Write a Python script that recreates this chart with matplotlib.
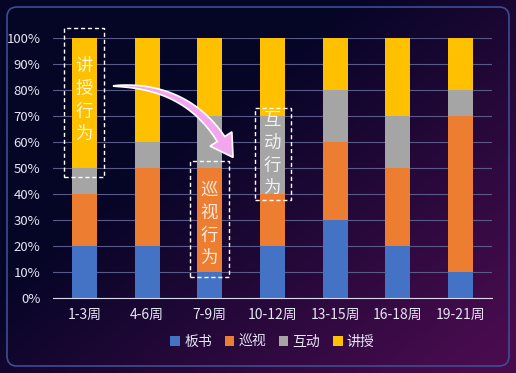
import matplotlib.pyplot as plt
import numpy as np
from matplotlib.patches import FancyBboxPatch, Rectangle, Polygon

plt.rcParams['font.family'] = ['Noto Sans CJK SC', 'DejaVu Sans']

# datos del grafico (porcentajes)
semanas = ["1-3周", "4-6周", "7-9周", "10-12周", "13-15周", "16-18周", "19-21周"]
banshu = [20, 20, 10, 20, 30, 20, 10]
xunshi = [20, 30, 40, 20, 30, 30, 60]
hudong = [10, 10, 20, 30, 20, 20, 10]
jiangshou = [50, 40, 30, 30, 20, 30, 20]
series = ["板书", "巡视", "互动", "讲授"]
colores = ["#4472C4", "#ED7D31", "#A5A5A5", "#FFC000"]

W, H = 516, 373
fig = plt.figure(figsize=(W / 100, H / 100), dpi=100)

# fondo degradado azul oscuro -> morado (abajo a la derecha)
bg = fig.add_axes([0, 0, 1, 1])
gx, gy = np.meshgrid(np.linspace(0, 1, 200), np.linspace(0, 1, 200))
t = np.clip((gx * 0.9 + gy * 0.8 - 0.6) / 1.0, 0, 1)
c1 = np.array([5, 5, 38]) / 255
c2 = np.array([72, 12, 78]) / 255
img = c1[None, None, :] * (1 - t[..., None]) + c2[None, None, :] * t[..., None]
bg.imshow(img, extent=[0, W, 0, H], origin="upper", aspect="auto")
bg.set_xlim(0, W)
bg.set_ylim(0, H)
bg.axis("off")
bg.add_patch(FancyBboxPatch((7, 7), W - 14, H - 14, boxstyle="round,pad=0,rounding_size=10",
                            fill=False, edgecolor="#3d4d92", linewidth=1.2))

ax = fig.add_axes([53 / W, 1 - 298 / H, 439 / W, 260 / H])
ax.set_facecolor("none")
x = np.arange(len(semanas))
abajo = np.zeros(len(semanas))
for nombre, vals, col in zip(series, [banshu, xunshi, hudong, jiangshou], colores):
    ax.bar(x, vals, bottom=abajo, width=0.4, color=col, label=nombre, zorder=2)
    abajo = abajo + np.array(vals)

ax.set_xlim(-0.5, len(semanas) - 0.5)
ax.set_ylim(0, 100)
ax.set_yticks(np.arange(0, 101, 10))
ax.set_yticklabels([f"{v}%" for v in range(0, 101, 10)])
ax.set_xticks(x)
ax.set_xticklabels(semanas)
ax.tick_params(colors="#e6e6f5", length=0, pad=7)
ax.tick_params(axis="x", labelsize=10)
ax.tick_params(axis="y", labelsize=9.5, pad=9)
ax.grid(axis="y", color="#5a5a88", linewidth=0.8, zorder=0)
for s in ["top", "right", "left"]:
    ax.spines[s].set_visible(False)
ax.spines["bottom"].set_color("#d8d8ee")
ax.spines["bottom"].set_zorder(3)

leg = ax.legend(loc="upper center", bbox_to_anchor=(0.5, -0.095), ncol=4, frameon=False,
                fontsize=10, handlelength=0.7, handleheight=0.7, handletextpad=0.3,
                columnspacing=0.9, labelcolor="#e6e6f5")

# capa superior: cajas punteadas con texto vertical y flecha (pixeles de la figura)
cajas = [((64, 28, 104, 177), "讲\n授\n行\n为", (84, 100)),
         ((190, 161, 229, 277), "巡\n视\n行\n为", (209, 224)),
         ((255, 108, 291, 200), "互\n动\n行\n为", (272, 154))]
top = fig.add_axes([0, 0, 1, 1])
top.set_xlim(0, W)
top.set_ylim(0, H)
top.axis("off")
for (x0, y0, x1, y1), txt, (tx, ty) in cajas:
    top.add_patch(Rectangle((x0, H - y1), x1 - x0, y1 - y0, fill=False, edgecolor="white",
                            linestyle=(0, (3, 2)), linewidth=1))
    top.text(tx, H - ty, txt, ha="center", va="center", color="white", alpha=0.85,
             fontsize=12.5, linespacing=1.35)

# flecha curva que se ensancha (bezier cuadratica)
p0, p1, p2 = np.array([113, 86.0]), np.array([185, 84.0]), np.array([221, 139.0])
s = np.linspace(0, 1, 60)[:, None]
curva = (1 - s) ** 2 * p0 + 2 * (1 - s) * s * p1 + s ** 2 * p2
tang = 2 * (1 - s) * (p1 - p0) + 2 * s * (p2 - p1)
tang = tang / np.linalg.norm(tang, axis=1, keepdims=True)
normal = np.column_stack([-tang[:, 1], tang[:, 0]])
ancho = 4.5 * s ** 0.6
izq = curva + normal * ancho
der = curva - normal * ancho
d = tang[-1]
n = normal[-1]
punta = p2 + d * 22
cabeza = [p2 + n * 13, punta, p2 - n * 13]
pts = np.vstack([izq, [izq[-1]], cabeza, [der[-1]], der[::-1]])
pts[:, 1] = H - pts[:, 1]
top.add_patch(Polygon(pts, closed=True, facecolor="#f2a6ee", edgecolor="white", linewidth=1.2,
                      joinstyle="miter"))

fig.savefig("out.png", dpi=100)
